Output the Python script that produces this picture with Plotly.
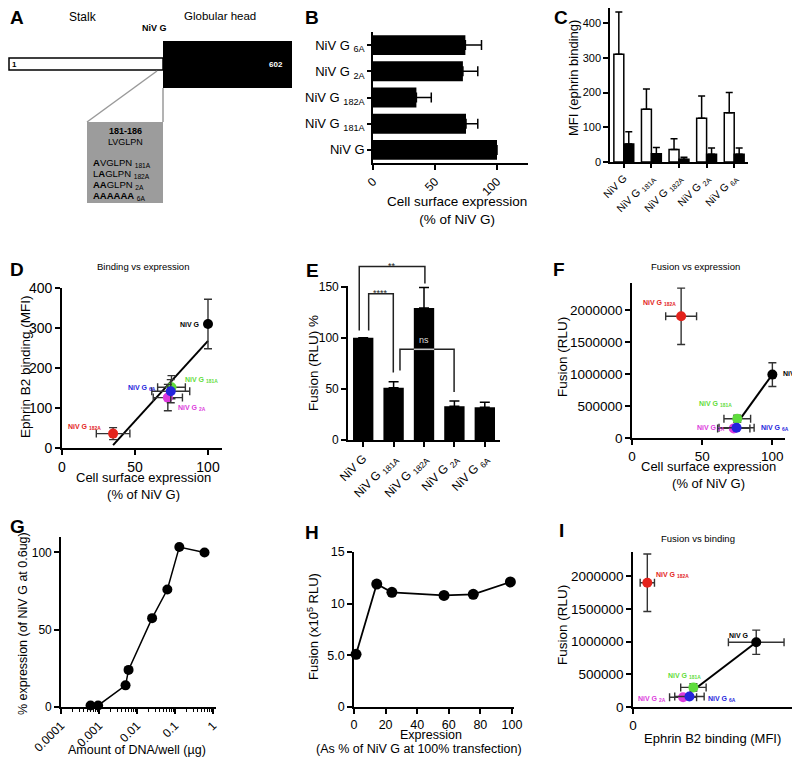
import numpy as np
import plotly.graph_objects as go

# The page body adds an 8px margin around the figure, so the figure is 8px
# smaller and every reference pixel position is shifted by OFF.
PAGE_W, PAGE_H = 800, 759
OFF = 8
W, H = PAGE_W - OFF, PAGE_H - OFF
FONT = "Arial, Liberation Sans, Helvetica, sans-serif"

# ---------------- data ----------------
variant_ticks = ["NiV G", "NiV G <sub>181A</sub>", "NiV G <sub>182A</sub>",
                 "NiV G <sub>2A</sub>", "NiV G <sub>6A</sub>"]
variant_colors = ["#000000", "#5fdc3c", "#e3231c", "#dc3adc", "#2424dc"]

# B: cell-surface expression (% of NiV G)
surface_expr = [100, 75, 35, 72.5, 74.5]
surface_expr_err = [None, 9.5, 12, 12, 13]

# C: MFI (ephrin binding): white = ephrinB2, black = background
binding_mfi = [310, 152, 36, 126, 142]
binding_mfi_err = [122, 58, 31, 64, 58]
background_mfi = [52, 24, 8, 22, 22]
background_mfi_err = [35, 18, 6, 18, 18]

# D: binding vs expression error bars
d_expr_err = [None, 9.5, 11.5, 10, 13]
d_binding_err = [62, 29, 15, 33, 29]

# E: fusion (% of NiV G)
fusion_pct = [100, 51, 129, 33, 32]
fusion_pct_err = [None, 6, 20, 5, 5]

# F / I: fusion (RLU)
fusion_rlu = [990000, 300000, 1900000, 150000, 160000]
fusion_rlu_err = [185000, 55000, 440000, 22000, 22000]
f_expr_err = [None, 9.5, 11, 11.5, 12.5]
i_binding_err = [70, 32, 18, 34, 37]

# G: DNA titration
dna_ug = [0.0006, 0.00095, 0.005, 0.006, 0.025, 0.063, 0.13, 0.6]
g_expression = [1, 1, 14, 24, 57.5, 76, 103.5, 100]

# H: fusion vs expression level
h_expression = [1.3, 14.4, 24, 57, 75.5, 99]
h_fusion = [5.1, 11.9, 11.1, 10.8, 10.9, 12.1]

# ---------------- helpers ----------------
def px(x):
    return (x - OFF) / W

def py(y):
    return 1 - (y - OFF) / H

def clamp(v):
    return min(1.0, max(0.0, v))

def xd(l, r):
    return [clamp(px(l)), clamp(px(r))]

def yd(t, b):
    return [clamp(py(b)), clamp(py(t))]

def ax(**kw):
    base = dict(showline=True, linecolor="black", linewidth=1.6, ticks="outside",
                ticklen=5, tickwidth=1.5, tickcolor="black", showgrid=False,
                zeroline=False, tickfont=dict(size=12, color="black", family=FONT),
                fixedrange=True, automargin=False)
    base.update(kw)
    return base

def tf(size):
    return dict(size=size, family=FONT, color="black")

idx = list(range(len(variant_ticks)))
fig = go.Figure()
annotations = []
shapes = []

def note(text, x, y, size=12, color="black", xanchor="center", yanchor="middle",
         angle=0, xref="paper", yref="paper", xshift=0, yshift=0):
    annotations.append(dict(text=text, x=x, y=y, xref=xref, yref=yref, showarrow=False,
                            xanchor=xanchor, yanchor=yanchor, textangle=angle,
                            xshift=xshift, yshift=yshift,
                            font=dict(size=size, color=color, family=FONT)))

# ---------------- Panel A (schematic) ----------------
shapes.append(dict(type="rect", xref="paper", yref="paper", x0=px(9), x1=px(163),
                   y0=py(70), y1=py(58), fillcolor="white", line=dict(color="black", width=1.5)))
shapes.append(dict(type="rect", xref="paper", yref="paper", x0=px(163), x1=px(292),
                   y0=py(88), y1=py(41), fillcolor="black", line=dict(color="black", width=0)))
shapes.append(dict(type="line", xref="paper", yref="paper", x0=px(157), y0=py(71),
                   x1=px(87), y1=py(122), line=dict(color="#9a9a9a", width=1.5)))
shapes.append(dict(type="line", xref="paper", yref="paper", x0=px(163), y0=py(88),
                   x1=px(163), y1=py(122), line=dict(color="#9a9a9a", width=1.5)))
shapes.append(dict(type="rect", xref="paper", yref="paper", x0=px(87), x1=px(163),
                   y0=py(203), y1=py(122), fillcolor="#9c9c9c", line=dict(width=0)))

note("Stalk", px(83), py(8), 12, yanchor="top")
note("Globular head", px(220), py(8), 11.5, yanchor="top")
note("<b>NiV G</b>", px(154), py(28), 9)
note("<b>1</b>", px(14), py(64), 8)
note("<b>602</b>", px(276), py(64), 8, color="white")
note("<b>181-186</b>", px(125), py(131), 9)
note("LVGLPN", px(125), py(142), 9)
note("<b>A</b>VGLPN <sub>181A</sub>", px(91), py(163), 9.5, xanchor="left")
note("L<b>A</b>GLPN <sub>182A</sub>", px(91), py(174), 9.5, xanchor="left")
note("<b>AA</b>GLPN <sub>2A</sub>", px(91), py(185), 9.5, xanchor="left")
note("<b>AAAAAA</b> <sub>6A</sub>", px(91), py(196), 9.5, xanchor="left")

# ---------------- Panel B ----------------
fig.add_trace(go.Bar(x=surface_expr, y=idx, orientation="h", width=0.76,
                     marker=dict(color="black", line=dict(width=0)),
                     error_x=dict(type="data", array=surface_expr_err, arrayminus=[0] * 5,
                                  symmetric=False, color="black", thickness=1.5, width=5),
                     xaxis="x2", yaxis="y2", showlegend=False, hoverinfo="skip"))

# ---------------- Panel C ----------------
fig.add_trace(go.Bar(x=idx, y=binding_mfi, offset=-0.36, width=0.36,
                     marker=dict(color="white", line=dict(color="black", width=1.5)),
                     error_y=dict(type="data", array=binding_mfi_err, arrayminus=[0] * 5,
                                  symmetric=False, color="black", thickness=1.5, width=3.5),
                     xaxis="x3", yaxis="y3", showlegend=False, hoverinfo="skip"))
fig.add_trace(go.Bar(x=idx, y=background_mfi, offset=0, width=0.36,
                     marker=dict(color="black", line=dict(color="black", width=1.5)),
                     error_y=dict(type="data", array=background_mfi_err, arrayminus=[0] * 5,
                                  symmetric=False, color="black", thickness=1.5, width=3.5),
                     xaxis="x3", yaxis="y3", showlegend=False, hoverinfo="skip"))

# ---------------- scatter helpers ----------------
def fit_line(xs, ys, which, xa, ya):
    xs_ = np.array([xs[i] for i in which], float)
    ys_ = np.array([ys[i] for i in which], float)
    k, b = np.polyfit(xs_, ys_, 1)
    xx = np.array([xs_.min(), xs_.max()])
    fig.add_trace(go.Scatter(x=xx, y=k * xx + b, mode="lines",
                             line=dict(color="black", width=2),
                             xaxis=xa, yaxis=ya, showlegend=False, hoverinfo="skip"))

def points(xs, ys, xerr, yerr, xa, ya):
    for i in idx:
        ex = dict(type="data", array=[xerr[i]], color="#333333", thickness=1.4, width=4,
                  visible=xerr[i] is not None)
        ey = dict(type="data", array=[yerr[i]], color="#333333", thickness=1.4, width=4,
                  visible=yerr[i] is not None)
        fig.add_trace(go.Scatter(x=[xs[i]], y=[ys[i]], mode="markers",
                                 marker=dict(color=variant_colors[i], size=10),
                                 error_x=ex, error_y=ey, xaxis=xa, yaxis=ya,
                                 showlegend=False, hoverinfo="skip", cliponaxis=False))

def labels(xs, ys, xa, ya, offsets):
    for i in idx:
        xanc, dx, dy = offsets[i]
        note("<b>" + variant_ticks[i] + "</b>", xs[i], ys[i], 7,
             color=variant_colors[i], xanchor=xanc, xref=xa, yref=ya, xshift=dx, yshift=dy)

# ---------------- Panel D ----------------
fit_line(surface_expr, binding_mfi, idx, "x4", "y4")
points(surface_expr, binding_mfi, d_expr_err, d_binding_err, "x4", "y4")
labels(surface_expr, binding_mfi, "x4", "y4",
       [("right", -6, 0), ("left", 12, 7), ("right", -10, 7), ("left", 8, -10), ("right", -13, 3)])

# ---------------- Panel E ----------------
fig.add_trace(go.Bar(x=idx, y=fusion_pct, width=0.67, marker=dict(color="black", line=dict(width=0)),
                     error_y=dict(type="data", array=fusion_pct_err, arrayminus=[0] * 5,
                                  symmetric=False, color="black", thickness=1.5, width=5),
                     xaxis="x5", yaxis="y5", showlegend=False, hoverinfo="skip"))

E_TOP, E_BOT, E_YMAX, E_OVER_TOP = 286, 440, 150.5, 250
brackets = [  # (x_left, x_right, y_bar, y_left_end, y_right_end, label)
    (-0.13, 2.03, 169.5, 107, 153, "**"),
    (0.18, 0.99, 143, 107, 66, "****"),
    (1.21, 2.99, 88.6, 68, 47, "ns"),
]
for xl, xr, yb, yl, yr, lab in brackets:
    fig.add_trace(go.Scatter(x=[xl, xl, xr, xr], y=[yl, yb, yb, yr], mode="lines",
                             line=dict(color="#222222", width=1.5),
                             xaxis="x5", yaxis="y10", showlegend=False, hoverinfo="skip"))
    if lab == "ns":
        note(lab, 2.0, yb, 9, color="#dddddd", xref="x5", yref="y10",
             yanchor="bottom", yshift=2)
    else:
        note(lab, (xl + xr) / 2, yb, 9, color="#222222", xref="x5", yref="y10", yshift=1)
fig.add_trace(go.Scatter(x=[2 - 0.335, 2 + 0.335], y=[88.6, 88.6], mode="lines",
                         line=dict(color="#c8c8c8", width=1.5),
                         xaxis="x5", yaxis="y10", showlegend=False, hoverinfo="skip"))

# ---------------- Panel F ----------------
no182 = [0, 1, 3, 4]
fit_line(surface_expr, fusion_rlu, no182, "x6", "y6")
points(surface_expr, fusion_rlu, f_expr_err, fusion_rlu_err, "x6", "y6")
labels(surface_expr, fusion_rlu, "x6", "y6",
       [("left", 9, 1), ("right", -3, 15), ("right", -3, 13), ("right", -7, 0), ("left", 22, 0)])

# ---------------- Panel G ----------------
fig.add_trace(go.Scatter(x=dna_ug, y=g_expression, mode="lines+markers",
                         line=dict(color="black", width=1.5),
                         marker=dict(color="black", size=10),
                         xaxis="x7", yaxis="y7", showlegend=False, hoverinfo="skip",
                         cliponaxis=False))

# ---------------- Panel H ----------------
fig.add_trace(go.Scatter(x=h_expression, y=h_fusion, mode="lines+markers",
                         line=dict(color="black", width=1.8),
                         marker=dict(color="black", size=11),
                         xaxis="x8", yaxis="y8", showlegend=False, hoverinfo="skip",
                         cliponaxis=False))

# ---------------- Panel I ----------------
fit_line(binding_mfi, fusion_rlu, no182, "x9", "y9")
points(binding_mfi, fusion_rlu, i_binding_err, fusion_rlu_err, "x9", "y9")
labels(binding_mfi, fusion_rlu, "x9", "y9",
       [("right", -5, 7), ("center", -9, 11), ("left", 7, 8), ("right", -15, -2), ("left", 17, -2)])

# ---------------- titles / letters ----------------
for letter, x, y, xa, ya in [("A", 8, 8, "left", "top"), ("B", 312, 8, "center", "top"),
                             ("C", 561, 8, "center", "top"), ("D", 8, 269, "left", "middle"),
                             ("E", 312, 270, "center", "middle"), ("F", 559, 269, "center", "middle"),
                             ("G", 8, 526, "left", "middle"), ("H", 312, 532, "center", "middle"),
                             ("I", 561, 530, "center", "middle")]:
    note("<b>" + letter + "</b>", px(x), py(y), 19, xanchor=xa, yanchor=ya,
         yshift=3 if ya == "top" else 0)

note("Binding vs expression", px(143), py(266), 9.5)
note("Fusion vs expression", px(695), py(266), 9.5)
note("Fusion vs binding", px(698), py(538), 9.5)

note("Cell surface expression<br>(% of NiV G)", px(457), py(210), 13.5)
note("MFI (ephrin binding)", px(573), py(78), 13, angle=-90)
note("Ephrin B2 binding (MFI)", px(25), py(367), 13.5, angle=-90)
note("Cell surface expression<br>(% of NiV G)", px(143), py(486), 13)
note("Fusion (RLU) %", px(313), py(363), 13.5, angle=-90)
note("Fusion (RLU)", px(562), py(357), 13.5, angle=-90)
note("Cell surface expression<br>(% of NiV G)", px(708), py(475), 13)
note("% expression (of NiV G at 0.6ug)", px(23), py(624), 12.5, angle=-90)
note("Amount of DNA/well (\u00b5g)", px(137), py(750), 12.5)
note("Fusion (x10<sup>5</sup> RLU)", px(313), py(627), 13, angle=-90)
note("Expression", px(431), py(735), 12.5)
note("(As % of NiV G at 100% transfection)", px(419), py(749), 12.5)
note("Fusion (RLU)", px(562), py(625), 13.5, angle=-90)
note("Ephrin B2 binding (MFI)", px(712), py(738), 13)

minor_vals = [m * 10.0 ** k for k in range(-4, 0) for m in range(2, 10)]
rlu_ticks = [0, 500000, 1000000, 1500000, 2000000]

# C: 0 at y=162px, 400 at y=23px; axis top clipped to the figure top
C_TOP, C_BOT = 8, 162
C_YMAX = 400 * (C_BOT - C_TOP) / (C_BOT - 23)

fig.update_layout(
    width=W, height=H, autosize=False,
    margin=dict(l=0, r=0, t=0, b=0, autoexpand=False),
    paper_bgcolor="white", plot_bgcolor="rgba(0,0,0,0)",
    barmode="overlay", showlegend=False,
    font=dict(family=FONT, color="black"),
    shapes=shapes, annotations=annotations,
    # B
    xaxis2=ax(domain=xd(373, 528), range=[0, 125], anchor="y2", tickvals=[0, 50, 100],
              tickangle=-45),
    yaxis2=ax(domain=yd(32, 163), range=[-0.5, 4.5], anchor="x2", tickvals=idx,
              ticktext=variant_ticks, ticklen=4, tickfont=tf(13)),
    # C
    xaxis3=ax(domain=xd(610, 748), range=[-0.5, 4.5], anchor="y3", tickvals=idx,
              ticktext=variant_ticks, tickangle=-45, ticklen=4, tickfont=tf(10.5)),
    yaxis3=ax(domain=yd(C_TOP, C_BOT), range=[0, C_YMAX], anchor="x3",
              tickvals=[0, 100, 200, 300, 400], tickfont=tf(11)),
    # D
    xaxis4=ax(domain=xd(62, 222), range=[0, 109.6], anchor="y4", tickvals=[0, 50, 100],
              tickfont=tf(14)),
    yaxis4=ax(domain=yd(288, 448), range=[0, 400], anchor="x4", tickvals=[0, 100, 200, 300, 400],
              tickfont=tf(14)),
    # E
    xaxis5=ax(domain=xd(348, 500), range=[-0.5, 4.5], anchor="y5", tickvals=idx,
              ticktext=variant_ticks, tickangle=-45, tickfont=tf(12)),
    yaxis5=ax(domain=yd(E_TOP, E_BOT), range=[0, E_YMAX], anchor="x5", tickvals=[0, 50, 100, 150]),
    yaxis10=dict(domain=yd(E_OVER_TOP, E_BOT), anchor="x5", visible=False, fixedrange=True,
                 automargin=False,
                 range=[0, E_YMAX * (E_BOT - E_OVER_TOP) / (E_BOT - E_TOP)]),
    # F
    xaxis6=ax(domain=xd(632, 785), range=[0, 109], anchor="y6", tickvals=[0, 50, 100],
              tickfont=tf(13.5)),
    yaxis6=ax(domain=yd(283, 438), range=[0, 2420000], anchor="x6", tickvals=rlu_ticks,
              tickformat="d", tickfont=tf(13.5)),
    # G
    xaxis7=ax(domain=xd(61, 216), type="log", range=[-4, 0.08], anchor="y7",
              tickvals=[0.0001, 0.001, 0.01, 0.1, 1], ticktext=["0.0001", "0.001", "0.01", "0.1", "1"],
              tickangle=-45,
              minor=dict(ticks="outside", ticklen=3, tickwidth=1, tickcolor="black",
                         tickvals=minor_vals)),
    yaxis7=ax(domain=yd(537, 707), range=[0, 110], anchor="x7", tickvals=[0, 50, 100]),
    # H
    xaxis8=ax(domain=xd(354, 514), range=[0, 101.3], anchor="y8",
              tickvals=[0, 20, 40, 60, 80, 100], tickfont=tf(12.5)),
    yaxis8=ax(domain=yd(552, 707), range=[0, 15], anchor="x8", tickvals=[0, 5, 10, 15],
              ticktext=["0", "5.0", "10", "15"], tickfont=tf(12.5)),
    # I
    xaxis9=ax(domain=xd(633, 792), range=[0, 400], anchor="y9", tickvals=[0],
              tickfont=tf(13.5)),
    yaxis9=ax(domain=yd(552, 707), range=[0, 2370000], anchor="x9", tickvals=rlu_ticks,
              tickformat="d", tickfont=tf(13.5)),
)

fig.write_html("out.html")
